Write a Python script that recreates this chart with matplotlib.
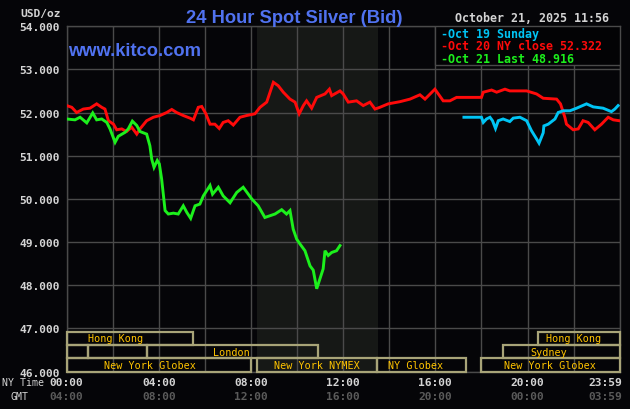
import matplotlib
matplotlib.use("Agg")
import matplotlib.pyplot as plt
from matplotlib.patches import Rectangle
import matplotlib.transforms as mtransforms

# ---------------- data (hours, NY time) ----------------
green_t = [0.00,0.36,0.58,0.87,1.13,1.30,1.52,1.74,1.88,2.10,2.24,2.53,2.67,2.85,3.04,
           3.18,3.47,3.61,3.69,3.79,3.93,4.02,4.12,4.27,4.41,4.63,4.84,5.06,5.21,5.38,
           5.57,5.78,5.93,6.22,6.33,6.58,6.79,7.09,7.38,7.66,7.88,8.03,8.31,8.60,8.82,
           9.04,9.33,9.54,9.69,9.83,9.98,10.12,10.34,10.56,10.70,10.85,10.99,11.13,11.21,
           11.35,11.50,11.71,11.86]
green_v = [51.85,51.83,51.89,51.76,51.99,51.83,51.85,51.77,51.62,51.31,51.45,51.54,51.62,51.80,51.70,
           51.56,51.50,51.23,50.92,50.73,50.89,50.81,50.46,49.73,49.65,49.67,49.65,49.84,49.69,49.55,
           49.84,49.88,50.07,50.31,50.11,50.27,50.07,49.91,50.15,50.27,50.11,50.00,49.84,49.57,49.61,
           49.65,49.75,49.65,49.73,49.30,49.07,48.96,48.80,48.45,48.35,47.92,48.15,48.38,48.80,
           48.69,48.76,48.80,48.92]

red_t = [0.00,0.22,0.43,0.72,1.01,1.30,1.52,1.66,1.81,2.03,2.17,2.39,2.60,2.82,3.04,
         3.18,3.47,3.76,4.05,4.34,4.56,4.77,5.06,5.35,5.50,5.71,5.86,6.04,6.22,6.43,
         6.62,6.79,7.01,7.23,7.52,7.81,8.17,8.39,8.68,8.97,9.18,9.40,9.69,9.91,10.09,
         10.27,10.41,10.63,
         10.85,11.21,11.40,11.50,11.86,12.00,12.22,12.58,12.87,13.16,13.38,13.59,13.95,14.46,14.90,
         15.33,15.55,15.98,16.34,16.63,16.92,18.00,18.08,18.44,18.66,19.02,19.23,19.96,20.39,20.68,
         21.26,21.43,21.62,21.69,21.98,22.20,22.41,22.63,22.92,23.21,23.50,23.72,23.98]
red_v = [52.16,52.12,52.00,52.08,52.10,52.20,52.12,52.08,51.81,51.73,51.60,51.62,51.56,51.66,51.50,
         51.62,51.81,51.89,51.93,52.00,52.07,52.00,51.93,51.87,51.83,52.12,52.14,51.97,51.73,51.73,
         51.63,51.77,51.81,51.71,51.89,51.93,51.97,52.12,52.24,52.70,52.62,52.47,52.31,52.24,51.97,
         52.16,52.27,52.10,
         52.35,52.43,52.54,52.39,52.50,52.43,52.24,52.27,52.16,52.24,52.08,52.12,52.20,52.25,52.31,
         52.41,52.31,52.54,52.27,52.27,52.35,52.35,52.47,52.52,52.47,52.54,52.50,52.50,52.43,52.33,
         52.31,52.20,51.89,51.73,51.60,51.62,51.81,51.77,51.60,51.73,51.89,51.83,51.81]

cyan_t = [17.24,18.00,18.08,18.22,18.37,18.48,18.61,18.73,18.94,19.23,19.38,19.67,19.96,20.17,20.39,
          20.50,20.68,20.71,20.90,21.19,21.33,21.55,21.84,22.13,22.56,22.85,23.28,23.64,23.79,23.93]
cyan_v = [51.89,51.89,51.77,51.85,51.89,51.81,51.63,51.81,51.85,51.79,51.87,51.89,51.81,51.58,51.39,
          51.29,51.53,51.69,51.73,51.85,52.00,52.04,52.04,52.10,52.20,52.13,52.10,52.02,52.08,52.16]

legend_labels = ["Oct 19 Sunday", "Oct 20 NY close 52.322", "Oct 21 Last 48.916"]

y_ticks = [46, 47, 48, 49, 50, 51, 52, 53, 54]
y_ticklabels = ["46.000", "47.000", "48.000", "49.000", "50.000", "51.000", "52.000", "53.000", "54.000"]
x_ticks = [0, 4, 8, 12, 16, 20, 24]
ny_labels = ["00:00", "04:00", "08:00", "12:00", "16:00", "20:00", "23:59"]
gmt_labels = ["04:00", "08:00", "12:00", "16:00", "20:00", "00:00", "03:59"]

# sessions: name, start, end, row (0 = bottom)
sess_names = ["New York Globex", "New York NYMEX", "NY Globex", "New York Globex",
              "", "", "London", "Sydney",
              "Hong Kong", "Hong Kong"]
sess_start = [0.0, 8.24, 13.47, 17.99, 0.0, 0.94, 3.47, 18.94, 0.0, 20.45]
sess_end   = [8.01, 13.46, 17.32, 24.0, 0.94, 3.47, 10.92, 24.0, 5.47, 24.0]
sess_row   = [0, 0, 0, 0, 1, 1, 1, 1, 2, 2]
sess_label_t = [3.62, 10.86, 15.15, 20.98, 0, 0, 7.15, 20.93, 2.1, 22.0]

comex_span = (8.25, 13.5)

# ---------------- styling ----------------
BG = "#050508"
SHADE = "#161816"
GRID = "#4a4a4a"
TXT = "#d4d4d4"
DIM = "#5a5a5a"
BLUE = "#5072f0"
RED = "#ff0a0a"
GREEN = "#1cf01c"
CYAN = "#00c4f4"
SESS_EDGE = "#a8a478"
SESS_TXT = "#ffc400"
MONO = "DejaVu Sans Mono"

W, H = 630, 410
fig = plt.figure(figsize=(6.3, 4.1), dpi=100, facecolor=BG)
L, R, T, B = 66.7, 619.7, 27.1, 372.7
ax = fig.add_axes([L / W, 1 - B / H, (R - L) / W, (B - T) / H])
ax.set_facecolor(BG)
ax.set_xlim(0, 24)
ax.set_ylim(46, 54)

ax.axvspan(*comex_span, color=SHADE, zorder=0, lw=0)

ax.set_yticks(y_ticks)
ax.set_yticklabels(y_ticklabels, fontfamily=MONO, fontweight="bold", fontsize=8.1, color=TXT)
ax.set_xticks(list(range(0, 25, 2)))
ax.set_xticklabels([])
ax.tick_params(length=0, pad=5)
ax.grid(True, color=GRID, lw=1.0, zorder=1)
for s in ax.spines.values():
    s.set_color(GRID)
    s.set_linewidth(1.0)

ax.plot(red_t, red_v, color=RED, lw=2.1, zorder=4, solid_joinstyle="miter")
ax.plot(cyan_t, cyan_v, color=CYAN, lw=2.1, zorder=4, solid_joinstyle="miter")
ax.plot(green_t, green_v, color=GREEN, lw=2.1, zorder=5, solid_joinstyle="miter")

# sessions
row_edges = [46.0, 46.31, 46.62, 46.92]
for name, s0, s1, r, lt in zip(sess_names, sess_start, sess_end, sess_row, sess_label_t):
    y0, y1 = row_edges[r], row_edges[r + 1]
    ax.add_patch(Rectangle((s0, y0), s1 - s0, y1 - y0, fill=False,
                           edgecolor=SESS_EDGE, lw=1.6, zorder=3, clip_on=False))
    if name:
        ax.text(lt, (y0 + y1) / 2, name, ha="center", va="center", color=SESS_TXT,
                fontfamily=MONO, fontsize=7.3, zorder=6)

# legend box
ax.add_patch(Rectangle((16, 53.1), 8, 0.9, facecolor="#030305", edgecolor=GRID, lw=1.0, zorder=7))
for i, (lab, col) in enumerate(zip(legend_labels, [CYAN, RED, GREEN])):
    y = [34.3, 46.5, 59.3][i]
    fig.text(441 / W, 1 - y / H, "-" + lab, color=col, fontfamily=MONO, fontweight="bold",
             fontsize=8.4, ha="left", va="center", zorder=8)

# x labels (two rows)
trans = mtransforms.blended_transform_factory(ax.transData, fig.transFigure)
for xt, a, b in zip(x_ticks, ny_labels, gmt_labels):
    off = mtransforms.ScaledTranslation(-14 / 100 if xt == 24 else 0, 0, fig.dpi_scale_trans)
    ax.text(xt, 1 - 383.5 / H, a, transform=trans + off, ha="center", va="center",
            color=TXT, fontfamily=MONO, fontweight="bold", fontsize=8.1, clip_on=False)
    ax.text(xt, 1 - 397.5 / H, b, transform=trans + off, ha="center", va="center",
            color=DIM, fontfamily=MONO, fontweight="bold", fontsize=8.1, clip_on=False)

fig.text(2 / W, 1 - 383.5 / H, "NY Time", color=TXT, fontfamily=MONO, fontsize=7.1,
         ha="left", va="center")
fig.text(10.5 / W, 1 - 397.5 / H, "GMT", color=TXT, fontfamily=MONO, fontsize=7.1,
         ha="left", va="center")

# headers
fig.text(294 / W, 1 - 22.7 / H, "24 Hour Spot Silver (Bid)", color=BLUE,
         fontfamily="Liberation Sans", fontweight="bold", fontsize=13.2, ha="center", va="baseline")
fig.text(68 / W, 1 - 55.5 / H, "www.kitco.com", color=BLUE,
         fontfamily="Liberation Sans", fontweight="bold", fontsize=13.2, ha="left", va="baseline")
fig.text(61 / W, 1 - 16.5 / H, "USD/oz", color=TXT, fontfamily=MONO, fontweight="bold",
         fontsize=8.1, ha="right", va="baseline")
fig.text(455 / W, 1 - 22 / H, "October 21, 2025 11:56", color=TXT, fontfamily=MONO,
         fontweight="bold", fontsize=8.4, ha="left", va="baseline")

fig.savefig("out.png", dpi=100, facecolor=BG)
